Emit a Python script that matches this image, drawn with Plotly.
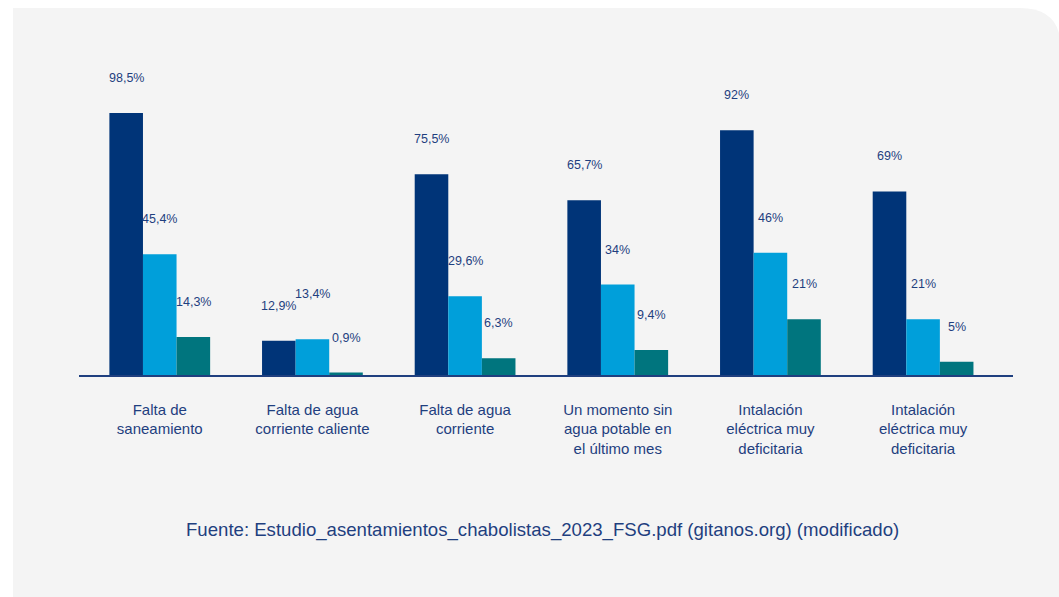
import plotly.graph_objects as go

# Category labels (x axis)
categorias = [
    "Falta de<br>saneamiento",
    "Falta de agua<br>corriente caliente",
    "Falta de agua<br>corriente",
    "Un momento sin<br>agua potable en<br>el último mes",
    "Intalación<br>eléctrica muy<br>deficitaria",
    "Intalación<br>eléctrica muy<br>deficitaria",
]

# Percent values per series
serie_1 = [98.5, 12.9, 75.5, 65.7, 92, 69]
serie_2 = [45.4, 13.4, 29.6, 34, 46, 21]
serie_3 = [14.3, 0.9, 6.3, 9.4, 21, 5]

fuente = "Fuente: Estudio_asentamientos_chabolistas_2023_FSG.pdf (gitanos.org) (modificado)"

COLORS = ["#003478", "#009fda", "#00757e"]
TEXT = "#1f3f7f"
FONT = "Liberation Sans, Arial, sans-serif"

W, H = 1059, 597
ML, MR, MT, MB = 79, 46, 50, 222
plot_w = W - ML - MR
plot_h = H - MT - MB
PX_PER_PCT = 2.66

x_idx = list(range(len(categorias)))
x_range = [-0.529, len(categorias) - 1 + 0.589]
px_per_unit = plot_w / (x_range[1] - x_range[0])
bargap = 0.34
bar_px = (1 - bargap) / 3 * px_per_unit


def fmt(v):
    if float(v).is_integer():
        return f"{int(v)}%"
    return f"{v}".replace(".", ",") + "%"


fig = go.Figure()
series = [serie_1, serie_2, serie_3]
for i, vals in enumerate(series):
    fig.add_trace(go.Bar(
        x=x_idx, y=vals, name=f"Serie {i + 1}",
        marker=dict(color=COLORS[i], line=dict(width=0)),
        showlegend=False, hoverinfo="y",
    ))

# Value labels above each bar; a label is lifted when it would collide
# with the label of the neighbouring bar on its left.
annotations = []
for xi in x_idx:
    prev_y = None
    for i, vals in enumerate(series):
        v = vals[xi]
        label_y = v * PX_PER_PCT + 35
        if prev_y is not None and abs(label_y - prev_y) < 12:
            label_y = prev_y + 12
        prev_y = label_y
        annotations.append(dict(
            x=xi, y=v, xref="x", yref="y", text=fmt(v), showarrow=False,
            xshift=(i - 1) * bar_px, yshift=label_y - v * PX_PER_PCT,
            yanchor="middle",
            font=dict(family=FONT, size=12.5, color=TEXT),
        ))

annotations.append(dict(
    x=(542.5 - ML) / plot_w, y=(MT + plot_h - 530) / plot_h, xref="paper", yref="paper",
    text=fuente, showarrow=False, yanchor="middle", xanchor="center",
    font=dict(family=FONT, size=18.6, color=TEXT),
))

# Light panel with a rounded top-right corner, in paper coordinates
def px(xp):
    return (xp - ML) / plot_w


def py(yp):
    return (MT + plot_h - yp) / plot_h


panel = (
    f"M {px(13)},{py(8)} L {px(1020)},{py(8)} "
    f"Q {px(1061)},{py(8)} {px(1061)},{py(49)} "
    f"L {px(1061)},{py(600)} L {px(13)},{py(600)} Z"
)

fig.update_layout(
    width=W, height=H,
    margin=dict(l=ML, r=MR, t=MT, b=MB, pad=0),
    paper_bgcolor="white",
    plot_bgcolor="rgba(0,0,0,0)",
    barmode="group", bargap=bargap, bargroupgap=0,
    shapes=[dict(type="path", path=panel, xref="paper", yref="paper",
                 fillcolor="#f4f4f4", line=dict(width=0), layer="below")],
    annotations=annotations,
    xaxis=dict(
        range=x_range, tickmode="array", tickvals=x_idx, ticktext=categorias,
        showline=True, linecolor="#1f3f7f", linewidth=1.5,
        showgrid=False, zeroline=False,
        ticks="outside", ticklen=20, tickcolor="rgba(0,0,0,0)",
        tickfont=dict(family=FONT, size=15, color=TEXT),
        fixedrange=True,
    ),
    yaxis=dict(range=[0, plot_h / PX_PER_PCT], visible=False, showgrid=False,
               zeroline=False, fixedrange=True),
    font=dict(family=FONT, color=TEXT),
)

fig.write_html("out.html", config={"displayModeBar": False})
